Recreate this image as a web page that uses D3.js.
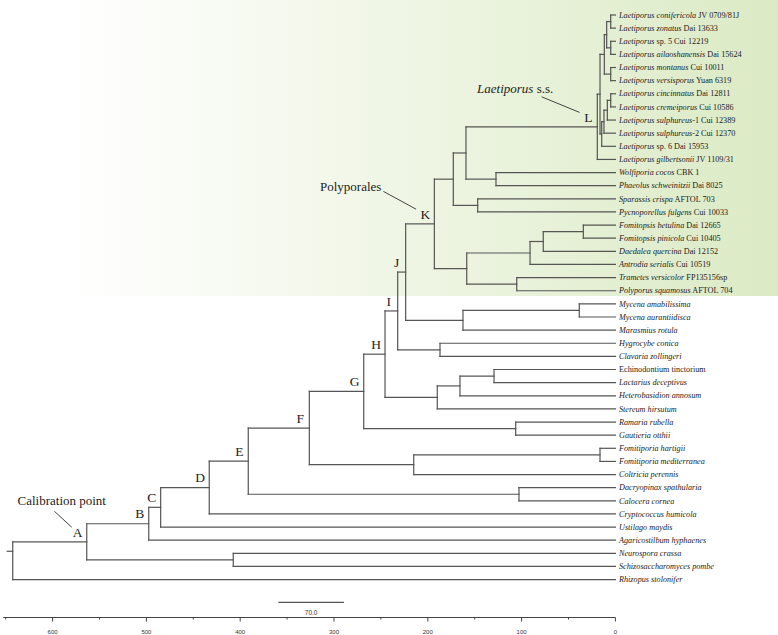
<!DOCTYPE html>
<html><head><meta charset="utf-8">
<script src="https://cdn.jsdelivr.net/npm/d3@7"></script>
<style>body{margin:0;background:#fff}</style>
</head><body><svg id="c" width="778" height="635"></svg>
<script>
// ---- DATA ----
const nodeIds     = ["root","A","B","C","D","E","F","G","H","I","J","K","K1","K1a","L","LT","LTop","LTop4","LCZ","LSA","LMV","LBot","LB2","LB3","LCC","WP","SP","K2","K2a","K2b","FO","TP","MM","MY","HC","ELHS","ELH","EL","RG","FC","FF","DC","NS"];
const nodeParents = ["",    "root","A","B","C","D","E","F","G","H","I","J","K","K1","K1a","L","LT","LTop","LTop4","LTop4","LTop","LT","LBot","LB2","LB3","K1a","K1","K","K2","K2a","K2b","K2","J","MM","I","H","ELHS","ELH","G","F","FC","E","A"];
const nodeAges    = [642.5,563.6,497.5,484.8,433,391.4,326.3,268.3,245.6,232.1,223.6,193,172.8,159.3,19.3,16.4,11.8,9.3,5,5,5,14.6,12.2,8.6,5,127.3,146.8,158.5,91,76.9,34.2,105.2,162.5,38.5,187,189.9,165.7,129.4,106.3,215,16.4,102.8,407.4];
const nodeLabels  = ["","A","B","C","D","E","F","G","H","I","J","K","","","L","","","","","","","","","","","","","","","","","","","","","","","","","","","",""];

const tipItalic = ["Laetiporus conifericola","Laetiporus zonatus","Laetiporus","Laetiporus ailaoshanensis","Laetiporus montanus","Laetiporus versisporus","Laetiporus cincinnatus","Laetiporus cremeiporus","Laetiporus sulphureus","Laetiporus sulphureus","Laetiporus","Laetiporus gilbertsonii","Wolfiporia cocos","Phaeolus schweinitzii","Sparassis crispa","Pycnoporellus fulgens","Fomitopsis betulina","Fomitopsis pinicola","Daedalea quercina","Antrodia serialis","Trametes versicolor","Polyporus squamosus","Mycena amabilissima","Mycena aurantiidisca","Marasmius rotula","Hygrocybe conica","Clavaria zollingeri","","Lactarius deceptivus","Heterobasidion annosum","Stereum hirsutum","Ramaria rubella","Gautieria otthii","Fomitiporia hartigii","Fomitiporia mediterranea","Coltricia perennis","Dacryopinax spathularia","Calocera cornea","Cryptococcus humicola","Ustilago maydis","Agaricostilbum hyphaenes","Neurospora crassa","Schizosaccharomyces pombe","Rhizopus stolonifer"];
const tipRest   = [" JV 0709/81J"," Dai 13633"," sp. 5 Cui 12219"," Dai 15624"," Cui 10011"," Yuan 6319"," Dai 12811"," Cui 10586","-1 Cui 12389","-2 Cui 12370"," sp. 6 Dai 15953"," JV 1109/31"," CBK 1"," Dai 8025"," AFTOL 703"," Cui 10033"," Dai 12665"," Cui 10405"," Dai 12152"," Cui 10519"," FP135156sp"," AFTOL 704","","","","","","Echinodontium tinctorium","","","","","","","","","","","","","","","",""];
const tipParents = ["LCZ","LCZ","LSA","LSA","LMV","LMV","LCC","LCC","LB3","LB2","LBot","L","WP","WP","SP","SP","FO","FO","K2b","K2a","TP","TP","MY","MY","MM","HC","HC","EL","EL","ELH","ELHS","RG","RG","FF","FF","FC","DC","DC","D","C","B","NS","NS","root"];

const axisTicks = [0,50,100,150,200,250,300,350,400,450,500,550,600,650];
const axisLabels = [0,100,200,300,400,500,600];
const scaleBarLength = 70;

// ---- BUILD ----
const svg = d3.select("#c");
const W = 778, H = 635;

const rows = nodeIds.map((id,i)=>({id, parent: nodeParents[i] || null, age: nodeAges[i], label: nodeLabels[i], tip:-1}))
  .concat(tipItalic.map((it,i)=>({id:"tip"+i, parent: tipParents[i], age:0, label:"", tip:i, it, rest: tipRest[i]})));
const root = d3.stratify().id(d=>d.id).parentId(d=>d.parent)(rows);

const x = d3.scaleLinear().domain([0, 650]).range([615.4, 5.7]);
const y = d3.scaleLinear().domain([0, tipItalic.length-1]).range([15, 579.6]);

root.eachAfter(n=>{
  n.px = x(n.data.age);
  if (n.data.tip >= 0) n.py = y(n.data.tip);
  else {
    const ys = n.children.map(c=>c.py);
    n.y0 = d3.min(ys); n.y1 = d3.max(ys);
    n.py = (n.y0 + n.y1)/2;
  }
});

// background gradient
const defs = svg.append("defs");
const g = defs.append("linearGradient").attr("id","bg").attr("gradientUnits","userSpaceOnUse")
  .attr("x1",70).attr("x2",W).attr("y1",0).attr("y2",0);
g.append("stop").attr("offset",0).attr("stop-color","#ffffff");
g.append("stop").attr("offset",0.5).attr("stop-color","#eef5e3");
g.append("stop").attr("offset",1).attr("stop-color","#dbeac4");
svg.append("rect").attr("x",0).attr("y",0).attr("width",W).attr("height",296).attr("fill","url(#bg)");

const lineCol = "#555", lw = 1.2;
const tree = svg.append("g").attr("stroke",lineCol).attr("stroke-width",lw).attr("fill","none").attr("stroke-linecap","square");
root.descendants().forEach(n=>{
  if (n.parent) tree.append("line").attr("x1",n.parent.px).attr("x2",n.px).attr("y1",n.py).attr("y2",n.py);
  if (n.children) tree.append("line").attr("x1",n.px).attr("x2",n.px).attr("y1",n.y0).attr("y2",n.y1);
});
// root stub
const stubY = (root.py + root.children[0].py)/2;
tree.append("line").attr("x1",root.px-5.5).attr("x2",root.px).attr("y1",stubY).attr("y2",stubY);

// tip labels
const tips = root.leaves();
const tl = svg.append("g").attr("font-family","'Liberation Serif','Times New Roman',serif").attr("font-size",8.2).attr("fill","#222");
tips.forEach(n=>{
  const t = tl.append("text").attr("x", n.px+3.6).attr("y", n.py).attr("dy","0.33em");
  if (n.data.it) t.append("tspan").attr("font-style","italic").text(n.data.it);
  if (n.data.rest) t.append("tspan").text(n.data.rest);
});

// node labels
const nl = svg.append("g").attr("font-family","'Liberation Serif','Times New Roman',serif").attr("font-size",13.5).attr("fill","#222").attr("text-anchor","middle");
const byId = {};
root.descendants().forEach(n=>{ byId[n.data.id]=n; });
root.descendants().filter(n=>n.data.label).forEach(n=>{
  nl.append("text").attr("x",n.px-9).attr("y",n.py-10).attr("dy","0.35em").text(n.data.label);
});

// annotations
const ann = svg.append("g").attr("font-family","'Liberation Serif','Times New Roman',serif").attr("font-size",13).attr("fill","#222");
const pl = svg.append("g").attr("stroke","#444").attr("stroke-width",1);
{
  const a = byId["A"]; const lx=a.px-9, ly=a.py-10;
  ann.append("text").attr("x",lx-16).attr("y",ly-31).attr("dy","0.35em").attr("text-anchor","middle").text("Calibration point");
  pl.append("line").attr("x1",lx-23.4).attr("y1",ly-20.6).attr("x2",lx-6).attr("y2",ly-4.6);
}
{
  const k = byId["K"]; const lx=k.px-9, ly=k.py-10;
  ann.append("text").attr("x",lx-44).attr("y",ly-27.5).attr("dy","0.35em").attr("text-anchor","end").text("Polyporales");
  pl.append("line").attr("x1",lx-42).attr("y1",ly-22.5).attr("x2",lx-9.3).attr("y2",ly-4.7);
}
{
  const l = byId["L"]; const lx=l.px-9, ly=l.py-10;
  const t = ann.append("text").attr("x",lx-35).attr("y",ly-28.7).attr("dy","0.35em").attr("text-anchor","end");
  t.append("tspan").attr("font-style","italic").text("Laetiporus");
  t.append("tspan").text(" s.s.");
  pl.append("line").attr("x1",lx-46.7).attr("y1",ly-20).attr("x2",lx-8.7).attr("y2",ly-4.4);
}

// axis
const axY = 617.5;
const ax = svg.append("g").attr("stroke","#444").attr("stroke-width",1);
ax.append("line").attr("x1",x(650)-2.5).attr("x2",x(0)).attr("y1",axY).attr("y2",axY);
axisTicks.forEach(v=>{
  const major = axisLabels.includes(v);
  ax.append("line").attr("x1",x(v)).attr("x2",x(v)).attr("y1",axY).attr("y2",axY+(major?4:2));
});
svg.append("g").attr("font-family","'Liberation Sans',Arial,sans-serif").attr("font-size",6).attr("fill","#333").attr("text-anchor","middle")
  .selectAll("text").data(axisLabels).join("text").attr("x",d=>x(d)).attr("y",632).attr("dy","0.35em").text(d=>d);

// scale bar
const sbStart = 359.4;
svg.append("line").attr("x1",x(sbStart)).attr("x2",x(sbStart-scaleBarLength)).attr("y1",602.3).attr("y2",602.3)
  .attr("stroke","#555").attr("stroke-width",1.3);
svg.append("text").attr("x",(x(sbStart)+x(sbStart-scaleBarLength))/2).attr("y",612.5).attr("dy","0.35em")
  .attr("font-family","'Liberation Sans',Arial,sans-serif").attr("font-size",6.5).attr("fill","#333").attr("text-anchor","middle")
  .text(d3.format(".1f")(scaleBarLength));
</script></body></html>
